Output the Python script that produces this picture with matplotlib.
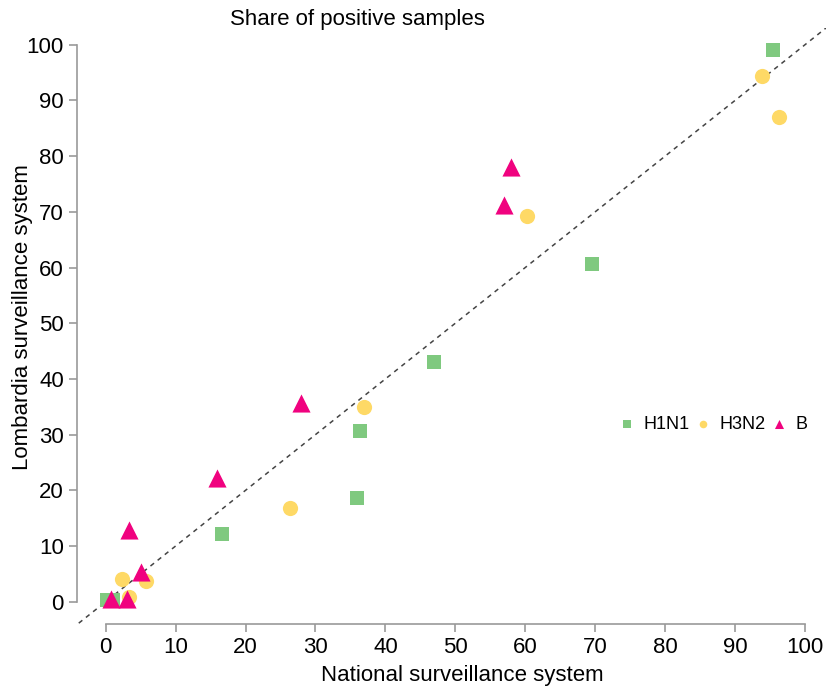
import matplotlib
matplotlib.use("Agg")
import matplotlib.pyplot as plt

# share of positive samples (%), national vs lombardia
h1n1_nat = [95.4, 69.6, 46.9, 36.4, 36.0, 16.6, 0.2, 1.0]
h1n1_lom = [99.1, 60.7, 43.1, 30.7, 18.7, 12.2, 0.3, 0.3]

h3n2_nat = [93.9, 96.3, 60.3, 36.9, 26.3, 2.4, 5.7, 3.4]
h3n2_lom = [94.4, 87.1, 69.3, 35.0, 16.9, 4.1, 3.8, 0.9]

b_nat = [57.9, 56.9, 27.9, 15.9, 3.4, 5.0, 0.7, 3.0]
b_lom = [78.1, 71.3, 35.7, 22.3, 12.9, 5.4, 0.4, 0.4]

ticks = list(range(0, 101, 10))

plt.rcParams['font.family'] = ['Liberation Sans', 'DejaVu Sans']

fig = plt.figure(figsize=(8.26, 6.86), dpi=100)
ax = fig.add_axes([77/826, 62/686, 749/826, 596/686])

ax.plot([-10, 110], [-10, 110], ls=(0, (3, 3)), color='#444444', lw=1.1, zorder=1)

ax.scatter(h1n1_nat, h1n1_lom, marker='s', s=110, color='#7fc97f', label='H1N1', zorder=3, linewidths=0)
ax.scatter(h3n2_nat, h3n2_lom, marker='o', s=120, color='#fed966', label='H3N2', zorder=3, linewidths=0)
ax.scatter(b_nat, b_lom, marker='^', s=170, color='#f0027f', label='B', zorder=4, linewidths=0)

ax.set_xlim(-4.1, 103)
ax.set_ylim(-4, 103)
ax.set_xticks(ticks)
ax.set_yticks(ticks)

for s in ['top', 'right']:
    ax.spines[s].set_visible(False)
for s in ['left', 'bottom']:
    ax.spines[s].set_color('#999999')
    ax.spines[s].set_linewidth(1.2)
ax.spines['bottom'].set_bounds(0, 100)
ax.spines['left'].set_bounds(0, 100)
ax.tick_params(colors='#999999', labelcolor='black', labelsize=16, length=6, width=1.2)

ax.set_xlabel('National surveillance system', fontsize=16, va='center')
ax.set_ylabel('Lombardia surveillance system', fontsize=16, va='center')
ax.xaxis.set_label_coords(0.515, -0.0856)
ax.yaxis.set_label_coords(-0.0734, 0.515)
ax.patch.set_alpha(0)

fig.text(357/826, 1 - 20/686, 'Share of positive samples', ha='center', va='center', fontsize=16)

ax.legend(loc='center left', bbox_to_anchor=(0.703, 0.335), ncol=3, frameon=False,
          fontsize=13, markerscale=0.5, handlelength=0.8, handletextpad=0.5,
          columnspacing=0.35)

fig.savefig('out.png', dpi=100)
